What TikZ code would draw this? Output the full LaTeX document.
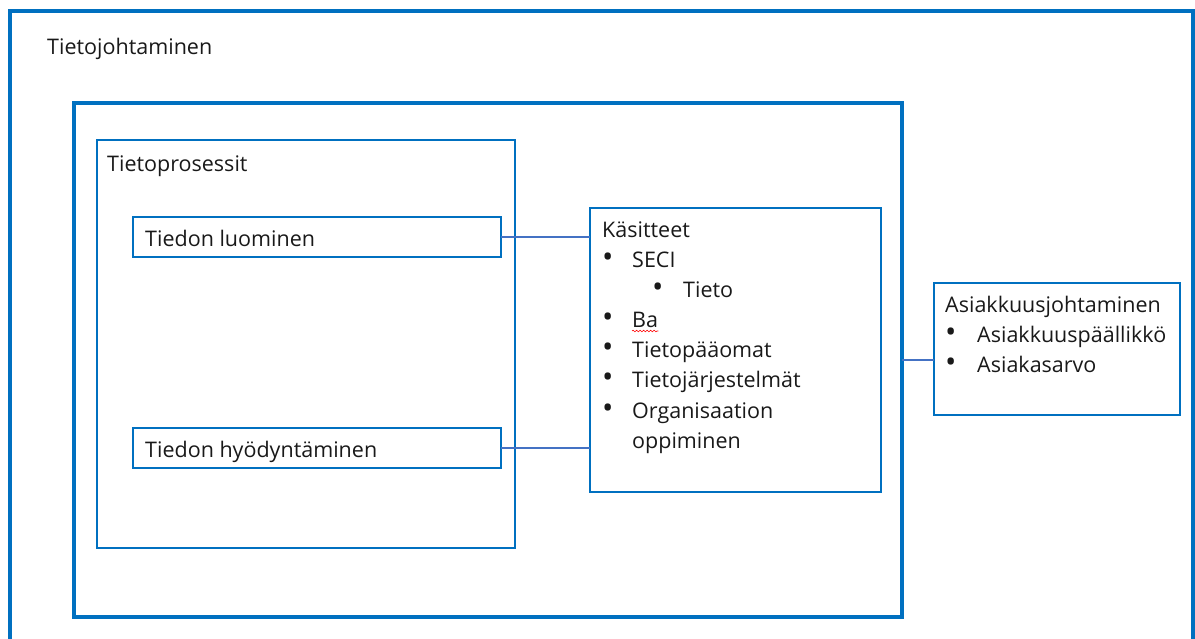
\documentclass[tikz,border=0pt]{standalone}
\usepackage{fontspec}
\setmainfont{Open Sans}
\usetikzlibrary{decorations.pathmorphing}
\definecolor{boxblue}{HTML}{0070C0}
\definecolor{lineblue}{HTML}{4472C4}
\newcommand{\bul}[2][30pt]{\makebox[#1][l]{\raisebox{-0.5pt}{\scalebox{1.4}{\textbullet}}}#2}

\begin{document}
\begin{tikzpicture}[x=1pt,y=-1pt,
  box/.style={draw=boxblue,line width=2pt,inner sep=0pt,outer sep=0pt},
  thickbox/.style={box,line width=3.2pt},
  lbl/.style={anchor=base west,inner sep=0pt,text=black!90,font=\fontsize{21.5}{30}\selectfont},
  conn/.style={draw=lineblue,line width=1.6pt}]
\useasboundingbox (0,0) rectangle (1195,638);
% frames
\node[thickbox,minimum width=1183pt,minimum height=689pt] (tj) at (601.5,355.5) {};
\node[thickbox,minimum width=828pt,minimum height=514pt] (mid) at (488,360) {};
\node[box,minimum width=418pt,minimum height=408pt] (tp) at (306,344) {};
\node[box,minimum width=368pt,minimum height=40pt] (luo) at (317,237) {};
\node[box,minimum width=368pt,minimum height=40pt] (hyo) at (317,448) {};
\node[box,minimum width=291pt,minimum height=284pt] (kas) at (735.5,350) {};
\node[box,minimum width=246pt,minimum height=132pt] (asi) at (1057,349) {};
% connectors
\draw[conn] (luo.east) -- (luo.east -| kas.west);
\draw[conn] (hyo.east) -- (hyo.east -| kas.west);
\draw[conn] (mid.east) -- (mid.east -| asi.west);
% texts
\node[lbl] (tjtxt) at (47,54) {Tietojohtaminen};
\node[lbl] (tptxt) at (107,171) {Tietoprosessit};
\node[lbl] (luotxt) at (145,246) {Tiedon luominen};
\node[lbl] (hyotxt) at (145,457) {Tiedon hyödyntäminen};
\node[lbl] (kastxt) at (602,237) {Käsitteet};
\node[lbl] (seci) at (602,267) {\bul{SECI}};
\node[lbl] (tieto) at (652,297) {\bul[31pt]{Tieto}};
\node[lbl] (ba) at (602,327) {\bul{Ba}};
\node[lbl] (tpo) at (602,357) {\bul{Tietopääomat}};
\node[lbl] (tjs) at (602,387) {\bul{Tietojärjestelmät}};
\node[lbl] (org) at (602,418) {\bul{Organisaation}};
\node[lbl] (opp) at (632,448) {oppiminen};
\draw[red,line width=0.6pt,decorate,decoration={snake,amplitude=0.8pt,segment length=3.5pt}]
  ([xshift=30pt,yshift=-4pt]ba.base west) -- ([yshift=-4pt]ba.base east);
\node[lbl] (asitxt) at (945,312) {Asiakkuusjohtaminen};
\node[lbl] (asp) at (945,342) {\bul[32pt]{Asiakkuuspäällikkö}};
\node[lbl] (asa) at (945,372) {\bul[32pt]{Asiakasarvo}};
\end{tikzpicture}
\end{document}
